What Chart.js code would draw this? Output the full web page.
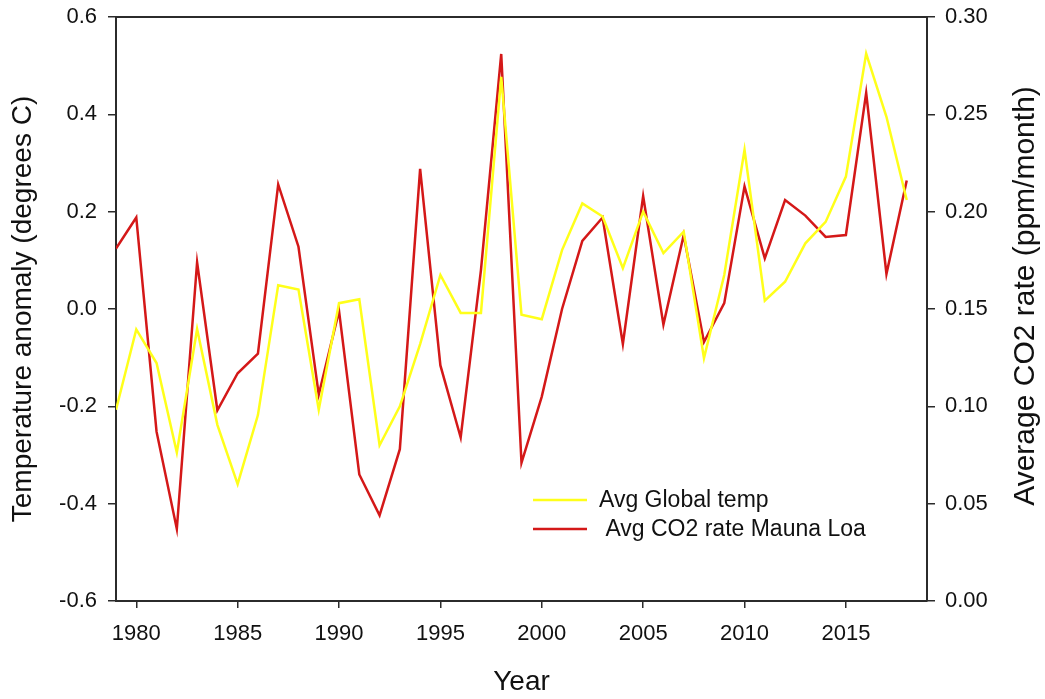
<!DOCTYPE html>
<html>
<head>
<meta charset="utf-8">
<script src="https://cdn.jsdelivr.net/npm/chart.js@4.4.1/dist/chart.umd.min.js"></script>
<style>
  html, body { margin: 0; padding: 0; background: #fff; }
  #wrap { width: 1045px; height: 699px; }
</style>
</head>
<body>
<div id="wrap"><canvas id="chart" width="1045" height="699"></canvas></div>
<script>
// data
const years = [1979,1980,1981,1982,1983,1984,1985,1986,1987,1988,1989,1990,1991,1992,1993,1994,1995,1996,1997,1998,
               1999,2000,2001,2002,2003,2004,2005,2006,2007,2008,2009,2010,2011,2012,2013,2014,2015,2016,2017,2018];
const tempAnomaly = [-0.207,-0.042,-0.111,-0.295,-0.041,-0.238,-0.360,-0.218,0.049,0.040,-0.207,0.012,0.020,-0.280,-0.200,-0.072,0.070,-0.008,-0.008,0.477,
                     -0.012,-0.021,0.121,0.217,0.190,0.084,0.200,0.115,0.159,-0.101,0.070,0.327,0.017,0.056,0.135,0.179,0.272,0.525,0.395,0.224];
const co2Rate = [0.181,0.197,0.087,0.037,0.174,0.098,0.117,0.127,0.214,0.182,0.106,0.149,0.065,0.044,0.078,0.222,0.121,0.084,0.170,0.281,
                 0.071,0.105,0.150,0.185,0.197,0.132,0.208,0.142,0.188,0.133,0.153,0.213,0.176,0.206,0.198,0.187,0.188,0.261,0.168,0.216];
const xTicks = [1980,1985,1990,1995,2000,2005,2010,2015];
const leftTicks = [-0.6,-0.4,-0.2,0,0.2,0.4,0.6];
const rightTicks = [0,0.05,0.1,0.15,0.2,0.25,0.3];
const seriesNames = ['Avg Global temp', ' Avg CO2 rate Mauna Loa'];
const rightTitle = 'Average CO2 rate (ppm/month)';

const AXIS = '#2b2b2b';
const FONT = 'Liberation Sans, Arial, sans-serif';

// top edge of the box + right title (reads bottom-to-top like the left one)
const framePlugin = {
  id: 'frame',
  afterDraw(chart) {
    const { ctx, chartArea: a } = chart;
    ctx.save();
    ctx.strokeStyle = AXIS;
    ctx.lineWidth = 2;
    ctx.beginPath();
    ctx.moveTo(a.left - 1, a.top);
    ctx.lineTo(a.right + 1, a.top);
    ctx.stroke();

    ctx.translate(1026, 296);
    ctx.rotate(-Math.PI / 2);
    ctx.font = '30px ' + FONT;
    ctx.fillStyle = '#111';
    ctx.textAlign = 'center';
    ctx.textBaseline = 'middle';
    ctx.fillText(rightTitle, 0, 0);
    ctx.restore();
  }
};

// legend drawn inside the plot area, lower middle
const boxLegend = {
  id: 'boxLegend',
  afterDatasetsDraw(chart) {
    const { ctx } = chart;
    const x0 = 533, x1 = 587, tx = 599, rows = [500, 529];
    ctx.save();
    ctx.font = '23px ' + FONT;
    ctx.textBaseline = 'middle';
    chart.data.datasets.forEach((ds, i) => {
      ctx.strokeStyle = ds.borderColor;
      ctx.lineWidth = ds.borderWidth;
      ctx.beginPath();
      ctx.moveTo(x0, rows[i]);
      ctx.lineTo(x1, rows[i]);
      ctx.stroke();
      ctx.fillStyle = '#111';
      ctx.fillText(ds.label, tx, rows[i] + 1);
    });
    ctx.restore();
  }
};

const fitVertical = w => s => { s.width = w; s.paddingTop = 0; s.paddingBottom = 0; };

new Chart(document.getElementById('chart'), {
  type: 'line',
  data: {
    datasets: [
      {
        label: seriesNames[0],
        data: years.map((y, i) => ({ x: y, y: tempAnomaly[i] })),
        borderColor: '#ffff1a',
        borderWidth: 2.5,
        pointRadius: 0,
        tension: 0,
        yAxisID: 'y'
      },
      {
        label: seriesNames[1],
        data: years.map((y, i) => ({ x: y, y: co2Rate[i] })),
        borderColor: '#d41818',
        borderWidth: 2.5,
        pointRadius: 0,
        tension: 0,
        yAxisID: 'y1'
      }
    ]
  },
  options: {
    responsive: false,
    animation: false,
    layout: { padding: { top: 17, left: 0, right: 0, bottom: 0 } },
    plugins: { legend: { display: false }, tooltip: { enabled: false } },
    scales: {
      x: {
        type: 'linear',
        min: 1979, max: 2019,
        afterBuildTicks: s => { s.ticks = xTicks.map(v => ({ value: v })); },
        afterFit: s => { s.height = 98; s.paddingLeft = 0; s.paddingRight = 0; },
        grid: { drawOnChartArea: false, drawTicks: true, tickLength: 7, color: AXIS, lineWidth: 1.5 },
        border: { display: true, color: AXIS, width: 2 },
        ticks: {
          color: '#111', padding: 13,
          font: { family: FONT, size: 22 },
          callback: v => String(v)
        },
        title: { display: true, text: 'Year', color: '#111', padding: { top: 0, bottom: 0 }, font: { family: FONT, size: 28 } }
      },
      y: {
        position: 'left',
        min: -0.6, max: 0.6,
        afterBuildTicks: s => { s.ticks = leftTicks.map(v => ({ value: v })); },
        afterFit: fitVertical(116),
        grid: { drawOnChartArea: false, drawTicks: true, tickLength: 8, color: AXIS, lineWidth: 1.5 },
        border: { display: true, color: AXIS, width: 2 },
        ticks: { color: '#111', padding: 11, font: { family: FONT, size: 22 }, callback: v => v.toFixed(1) },
        title: { display: true, text: 'Temperature anomaly (degrees C)', color: '#111', padding: { top: 6, bottom: 0 }, font: { family: FONT, size: 28 } }
      },
      y1: {
        position: 'right',
        min: 0, max: 0.3,
        afterBuildTicks: s => { s.ticks = rightTicks.map(v => ({ value: v })); },
        afterFit: fitVertical(118),
        grid: { drawOnChartArea: false, drawTicks: true, tickLength: 8, color: AXIS, lineWidth: 1.5 },
        border: { display: true, color: AXIS, width: 2 },
        ticks: { color: '#111', padding: 10, font: { family: FONT, size: 22 }, callback: v => v.toFixed(2) },
        title: { display: false }
      }
    }
  },
  plugins: [framePlugin, boxLegend]
});
</script>
</body>
</html>
